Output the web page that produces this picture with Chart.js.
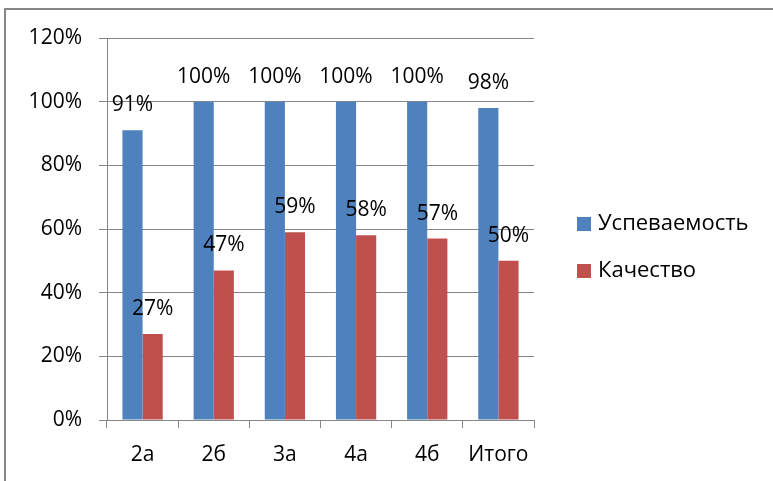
<!DOCTYPE html>
<html>
<head>
<meta charset="utf-8">
<script src="https://cdn.jsdelivr.net/npm/chart.js@4"></script>
<style>
  html, body { margin: 0; padding: 0; background: #fff; }
  #wrap { position: relative; width: 773px; height: 481px; }
</style>
</head>
<body>
<div id="wrap"><canvas id="chart1" width="773" height="481"></canvas></div>
<script>
// classes and values (percent)
var klassen = ['2а', '2б', '3а', '4а', '4б', 'Итого'];
var uspev = [91, 100, 100, 100, 100, 98];
var kachestvo = [27, 47, 59, 58, 57, 50];
var yTicks = [0, 20, 40, 60, 80, 100, 120];

var schrift = "'Open Sans', sans-serif";
var grau = '#868686';

// value labels above the bars
var wertePlugin = {
  id: 'werte',
  afterDatasetsDraw: function(chart) {
    var ctx = chart.ctx;
    ctx.save();
    ctx.font = '21px ' + schrift;
    ctx.fillStyle = '#000';
    ctx.textAlign = 'center';
    ctx.textBaseline = 'alphabetic';
    chart.data.datasets.forEach(function(ds, i) {
      chart.getDatasetMeta(i).data.forEach(function(bar, j) {
        ctx.fillText(ds.data[j] + '%', bar.x, bar.y - 19);
      });
    });
    ctx.restore();
  }
};

// frame + legend on the right
var rahmenPlugin = {
  id: 'rahmen',
  beforeDraw: function(chart) {
    var ctx = chart.ctx;
    ctx.save();
    ctx.fillStyle = '#fff';
    ctx.fillRect(0, 0, chart.width, chart.height);
    ctx.strokeStyle = grau;
    ctx.lineWidth = 2;
    ctx.beginPath();
    ctx.moveTo(5, chart.height);
    ctx.lineTo(5, 9);
    ctx.lineTo(chart.width, 9);
    ctx.stroke();
    ctx.restore();
  },
  afterDraw: function(chart) {
    var ctx = chart.ctx;
    ctx.save();
    ctx.font = '22px ' + schrift;
    ctx.textBaseline = 'middle';
    ctx.textAlign = 'left';
    chart.data.datasets.forEach(function(ds, i) {
      var y = 224 + i * 47;
      ctx.fillStyle = ds.backgroundColor;
      ctx.fillRect(577, y - 7, 14, 14);
      ctx.fillStyle = '#000';
      ctx.fillText(ds.label, 598, y);
    });
    ctx.restore();
  }
};

const ctx1 = document.getElementById('chart1').getContext('2d');
const chart1 = new Chart(ctx1, {
  type: 'bar',
  data: {
    labels: klassen,
    datasets: [
      {
        label: 'Успеваемость',
        data: uspev,
        backgroundColor: '#4f81bd',
        categoryPercentage: 0.566,
        barPercentage: 1
      },
      {
        label: 'Качество',
        data: kachestvo,
        backgroundColor: '#c0504d',
        categoryPercentage: 0.566,
        barPercentage: 1
      }
    ]
  },
  options: {
    responsive: false,
    animation: false,
    layout: {
      padding: { left: 0, right: 239, top: 38, bottom: 0 }
    },
    plugins: {
      legend: { display: false },
      tooltip: { enabled: false }
    },
    scales: {
      x: {
        grid: {
          drawOnChartArea: false,
          drawTicks: true,
          tickLength: 8,
          tickColor: grau,
          offset: true
        },
        border: { display: true, color: grau, width: 1 },
        ticks: {
          color: '#000',
          font: { family: schrift, size: 21 },
          padding: 14
        },
        afterFit: function(scale) { scale.height = 61; }
      },
      y: {
        min: 0,
        max: 120,
        afterBuildTicks: function(scale) {
          scale.ticks = yTicks.map(function(v) { return { value: v }; });
        },
        grid: {
          color: grau,
          lineWidth: 1,
          tickLength: 8,
          tickColor: grau
        },
        border: { display: true, color: grau, width: 1 },
        ticks: {
          color: '#000',
          font: { family: schrift, size: 21 },
          padding: 17,
          callback: function(v) { return v + '%'; }
        },
        afterFit: function(scale) { scale.width = 107; }
      }
    }
  },
  plugins: [wertePlugin, rahmenPlugin]
});
</script>
</body>
</html>
